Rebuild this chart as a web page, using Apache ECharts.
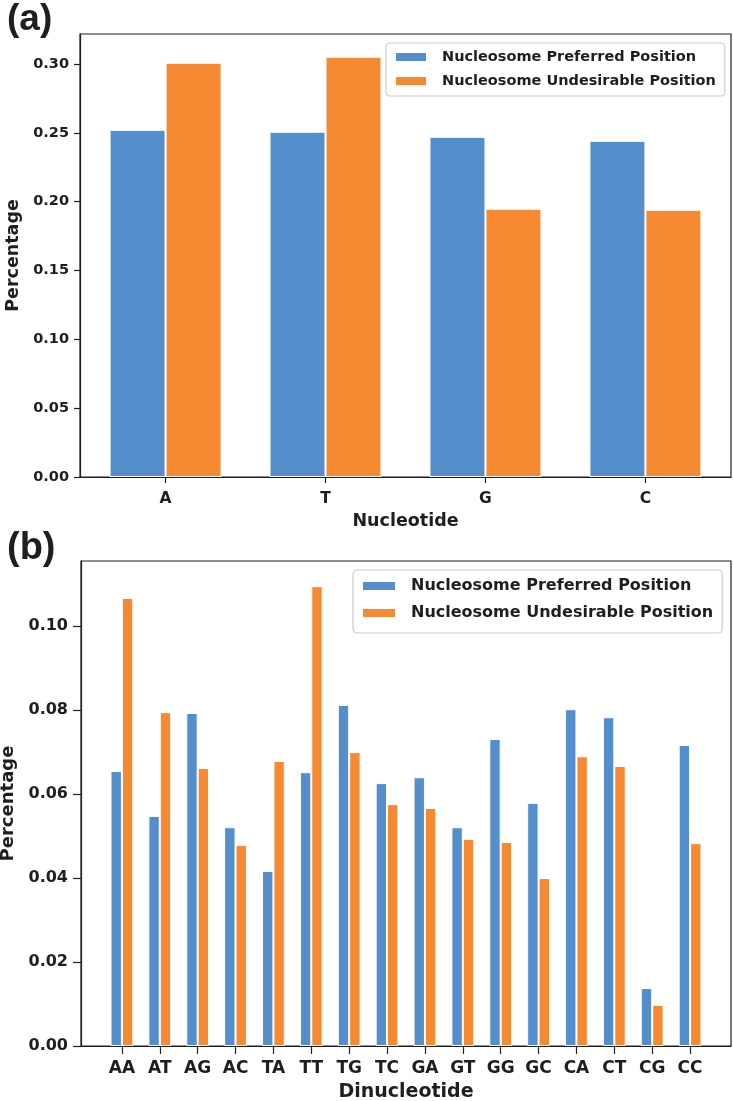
<!DOCTYPE html>
<html>
<head>
<meta charset="utf-8">
<script src="https://cdn.jsdelivr.net/npm/echarts@6/dist/echarts.min.js"></script>
<style>
html,body{margin:0;padding:0;background:#fff;}
#chart{width:733px;height:1101px;}
</style>
</head>
<body>
<div id="chart"></div>
<script>
// ---- data ----
const seriesNames = ['Nucleosome Preferred Position', 'Nucleosome Undesirable Position'];

const nucCategories = ['A', 'T', 'G', 'C'];
const nucPreferred = [0.2522, 0.2508, 0.2471, 0.2442];
const nucUndesirable = [0.3009, 0.3053, 0.1948, 0.1941];
const nucYTicks = [0.00, 0.05, 0.10, 0.15, 0.20, 0.25, 0.30];

const dinucCategories = ['AA','AT','AG','AC','TA','TT','TG','TC','GA','GT','GG','GC','CA','CT','CG','CC'];
const dinucPreferred = [0.0655,0.0548,0.0793,0.0521,0.0417,0.0652,0.0812,0.0626,0.0640,0.0521,0.0731,0.0579,0.0802,0.0783,0.0138,0.0717];
const dinucUndesirable = [0.1067,0.0795,0.0662,0.0479,0.0679,0.1095,0.0700,0.0576,0.0567,0.0493,0.0486,0.0400,0.0690,0.0667,0.0098,0.0483];
const dinucYTicks = [0.00, 0.02, 0.04, 0.06, 0.08, 0.10];

// ---- style ----
const BLUE = '#548ecb';
const ORANGE = '#f58a33';
const INK = '#1e1e1e';
const FONT = 'DejaVu Sans';

const toPairs = arr => arr.map((v, i) => [i, v]);
const idx = arr => arr.map((_, i) => i);

function xAxisCfg(gridIndex, cats, min, max, labelSize, tickLen, margin, nameText, nameSize, nameGap) {
  return {
    type: 'value', gridIndex, min, max,
    axisLine: {show: true, onZero: false, lineStyle: {color: INK, width: 1.2}},
    axisTick: {show: true, inside: false, length: tickLen, customValues: idx(cats), lineStyle: {color: INK, width: 1.2}},
    axisLabel: {customValues: idx(cats), formatter: v => cats[Math.round(v)], color: INK,
      fontFamily: FONT, fontWeight: 'bold', fontSize: labelSize, margin},
    splitLine: {show: false},
    name: nameText, nameLocation: 'middle', nameGap,
    nameTextStyle: {color: INK, fontFamily: FONT, fontWeight: 'bold', fontSize: nameSize}
  };
}
function yAxisCfg(gridIndex, ticks, max, labelSize, tickLen, margin, nameSize, nameGap) {
  return {
    type: 'value', gridIndex, min: 0, max,
    axisLine: {show: true, onZero: false, lineStyle: {color: INK, width: 1.2}},
    axisTick: {show: true, inside: false, length: tickLen, customValues: ticks, lineStyle: {color: INK, width: 1.2}},
    axisLabel: {customValues: ticks, formatter: v => v.toFixed(2), color: INK,
      fontFamily: FONT, fontWeight: 'bold', fontSize: labelSize, margin},
    splitLine: {show: false},
    name: 'Percentage', nameLocation: 'middle', nameGap,
    nameTextStyle: {color: INK, fontFamily: FONT, fontWeight: 'bold', fontSize: nameSize}
  };
}
function barSeries(name, data, color, axisIndex, width) {
  return {
    type: 'bar', name, data: toPairs(data),
    xAxisIndex: axisIndex, yAxisIndex: axisIndex,
    barWidth: width, barGap: '0%',
    itemStyle: {color, borderColor: '#ffffff', borderWidth: 1},
    emphasis: {disabled: true},
    animation: false
  };
}
function legendCfg(left, top, size, itemW, itemH, gap, lh, padding) {
  return {
    orient: 'vertical', left, top, padding,
    data: seriesNames,
    itemWidth: itemW, itemHeight: itemH, itemGap: gap,
    icon: 'rect',
    backgroundColor: 'rgba(255,255,255,0.8)',
    borderColor: '#cccccc', borderWidth: 1.2, borderRadius: 4,
    selectedMode: false,
    textStyle: {color: INK, fontFamily: FONT, fontWeight: 'bold', fontSize: size, lineHeight: lh, padding: [0, 0, 0, 10]}
  };
}

const option = {
  animation: false,
  title: [
    {text: '(a)', left: 7, top: 1, padding: 0,
     textStyle: {fontFamily: 'Liberation Sans', fontSize: 37, fontWeight: 'bold', color: INK}},
    {text: '(b)', left: 7, top: 530, padding: 0,
     textStyle: {fontFamily: 'Liberation Sans', fontSize: 38, fontWeight: 'bold', color: INK}}
  ],
  legend: [
    legendCfg(386, 43, 14.5, 32, 10, 6, 18, [5, 9, 6, 8]),
    legendCfg(353, 570, 16, 34, 10, 7, 20, [6, 9, 10, 8])
  ],
  grid: [
    {left: 80, top: 34, width: 651, height: 443, show: true, borderColor: INK, borderWidth: 1.2,
     outerBoundsMode: 'none', containLabel: false},
    {left: 81, top: 561, width: 650, height: 485, show: true, borderColor: INK, borderWidth: 1.2,
     outerBoundsMode: 'none', containLabel: false}
  ],
  xAxis: [
    xAxisCfg(0, nucCategories, -0.535, 3.535, 15.5, 6, 14, 'Nucleotide', 17.5, 35),
    xAxisCfg(1, dinucCategories, -1.08, 16.08, 17, 8, 14, 'Dinucleotide', 19, 37)
  ],
  yAxis: [
    yAxisCfg(0, nucYTicks, 0.3218, 14.5, 6, 11, 17.5, 53),
    yAxisCfg(1, dinucYTicks, 0.1155, 16, 8, 13, 18, 62)
  ],
  series: [
    barSeries(seriesNames[0], nucPreferred, BLUE, 0, 56),
    barSeries(seriesNames[1], nucUndesirable, ORANGE, 0, 56),
    barSeries(seriesNames[0], dinucPreferred, BLUE, 1, 11.4),
    barSeries(seriesNames[1], dinucUndesirable, ORANGE, 1, 11.4)
  ]
};

const chart = echarts.init(document.getElementById('chart'), null, {renderer: 'canvas'});
chart.setOption(option);
</script>
</body>
</html>
